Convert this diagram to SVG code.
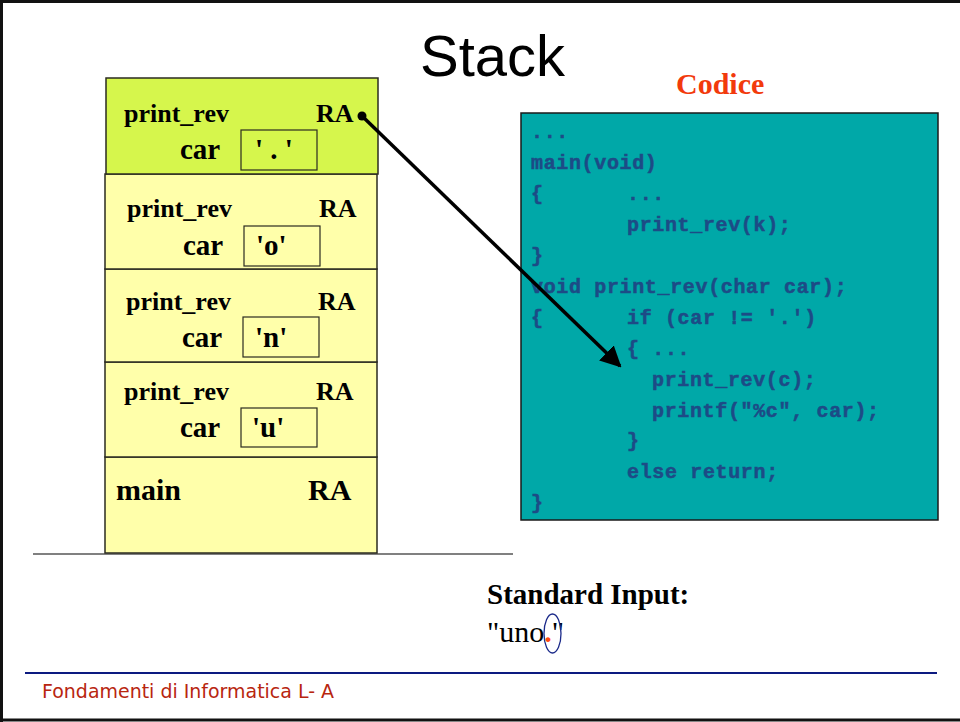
<svg xmlns="http://www.w3.org/2000/svg" width="960" height="722" viewBox="0 0 960 722">
  <style>
    .frame { stroke: #2b2b20; stroke-width: 1.5; }
    .act { fill: #ffffaa; }
    .top { fill: #d6f64c; }
    .lbl { font-family: "Liberation Serif", "Times New Roman", serif; font-weight: bold; fill: #000; }
    .fn { font-size: 26px; }
    .var { font-size: 29px; }
    .cell { fill: none; stroke: #2b2b20; stroke-width: 1.2; }
    .code { font-family: "Liberation Mono", "Courier New", monospace; font-weight: bold; font-size: 20px; letter-spacing: 0.65px; fill: #1d4b86; stroke: #1d4b86; stroke-width: 0.5; }
  </style>
  <defs>
    <marker id="arrowhead" viewBox="0 0 10 10" refX="9" refY="5" markerWidth="6" markerHeight="6" markerUnits="strokeWidth" orient="auto">
      <path d="M0,0 L10,5 L0,10 z" fill="#000"/>
    </marker>
  </defs>

  <rect width="960" height="722" fill="#fff"/>
  <!-- page frame -->
  <path d="M1.5,722 V1.5 H960 M0,720 H960" fill="none" stroke="#111" stroke-width="3"/>

  <!-- title -->
  <text x="420" y="76" font-family="Liberation Sans, Arial, sans-serif" font-size="58" fill="#000">Stack</text>
  <text x="676" y="94" font-family="Liberation Serif, Times New Roman, serif" font-weight="bold" font-size="30" fill="#f23a0c">Codice</text>

  <!-- stack baseline -->
  <line x1="33" y1="554" x2="513" y2="554" stroke="#808080" stroke-width="2"/>

  <!-- activation records -->
  <g id="frame-main">
    <rect class="frame act" x="105" y="457" width="272" height="96"/>
    <text class="lbl" x="116" y="500" font-size="30">main</text>
    <text class="lbl" x="308" y="500" font-size="30">RA</text>
  </g>
  <g id="frame-u">
    <rect class="frame act" x="105" y="362" width="272" height="95"/>
    <text class="lbl fn" x="124" y="400">print_rev</text>
    <text class="lbl fn" x="316" y="400">RA</text>
    <text class="lbl var" x="180" y="437">car</text>
    <rect class="cell" x="241" y="408" width="76" height="39"/>
    <text class="lbl var" x="252" y="437">'u'</text>
  </g>
  <g id="frame-n">
    <rect class="frame act" x="105" y="269" width="272" height="93"/>
    <text class="lbl fn" x="126" y="310">print_rev</text>
    <text class="lbl fn" x="318" y="310">RA</text>
    <text class="lbl var" x="182" y="347">car</text>
    <rect class="cell" x="243" y="317" width="76" height="40"/>
    <text class="lbl var" x="255" y="347">'n'</text>
  </g>
  <g id="frame-o">
    <rect class="frame act" x="105" y="174" width="272" height="95"/>
    <text class="lbl fn" x="127" y="217">print_rev</text>
    <text class="lbl fn" x="319" y="217">RA</text>
    <text class="lbl var" x="183" y="255">car</text>
    <rect class="cell" x="244" y="226" width="76" height="40"/>
    <text class="lbl var" x="256" y="255">'o'</text>
  </g>
  <g id="frame-dot">
    <rect class="frame top" x="106" y="78" width="272" height="96"/>
    <text class="lbl fn" x="124" y="122">print_rev</text>
    <text class="lbl fn" x="316" y="122">RA</text>
    <text class="lbl var" x="180" y="159">car</text>
    <rect class="cell" x="241" y="130" width="76" height="40"/>
    <text class="lbl var" x="255" y="159">' . '</text>
  </g>

  <!-- source code panel -->
  <g id="code">
    <rect x="521" y="113" width="417" height="407" fill="#00a8a8" stroke="#1a1a1a" stroke-width="1.5"/>
    <text class="code" x="531" y="138">...</text>
    <text class="code" x="531" y="169">main(void)</text>
    <text class="code" x="531" y="200">{</text>
    <text class="code" x="627" y="200">...</text>
    <text class="code" x="627" y="231">print_rev(k);</text>
    <text class="code" x="531" y="262">}</text>
    <text class="code" x="531" y="293">void print_rev(char car);</text>
    <text class="code" x="531" y="324">{</text>
    <text class="code" x="627" y="324">if (car != '.')</text>
    <text class="code" x="627" y="355">{ ...</text>
    <text class="code" x="652" y="386">print_rev(c);</text>
    <text class="code" x="652" y="417">printf("%c", car);</text>
    <text class="code" x="627" y="447">}</text>
    <text class="code" x="627" y="478">else return;</text>
    <text class="code" x="531" y="509">}</text>
  </g>

  <!-- return address link -->
  <g id="connectors">
    <circle cx="362" cy="116" r="4.5" fill="#000"/>
    <line x1="362" y1="116" x2="620" y2="366" stroke="#000" stroke-width="3.5" marker-end="url(#arrowhead)"/>
  </g>

  <!-- input -->
  <g id="input">
    <text x="487" y="604" font-family="Liberation Serif, Times New Roman, serif" font-weight="bold" font-size="29" fill="#000">Standard Input:</text>
    <text x="487" y="642" font-family="Liberation Serif, Times New Roman, serif" font-size="30" fill="#000">"uno<tspan fill="#ff4a10" font-weight="bold">.</tspan>"</text>
    <ellipse cx="552.5" cy="633.5" rx="8.5" ry="19.5" fill="none" stroke="#1b2a8a" stroke-width="1.3"/>
  </g>

  <!-- footer -->
  <line x1="25" y1="673" x2="937" y2="673" stroke="#0c1a80" stroke-width="2.2"/>
  <text x="42" y="698" font-family="DejaVu Sans, sans-serif" font-size="20" fill="#b8260f" textLength="292" lengthAdjust="spacingAndGlyphs">Fondamenti di Informatica L- A</text>
</svg>
